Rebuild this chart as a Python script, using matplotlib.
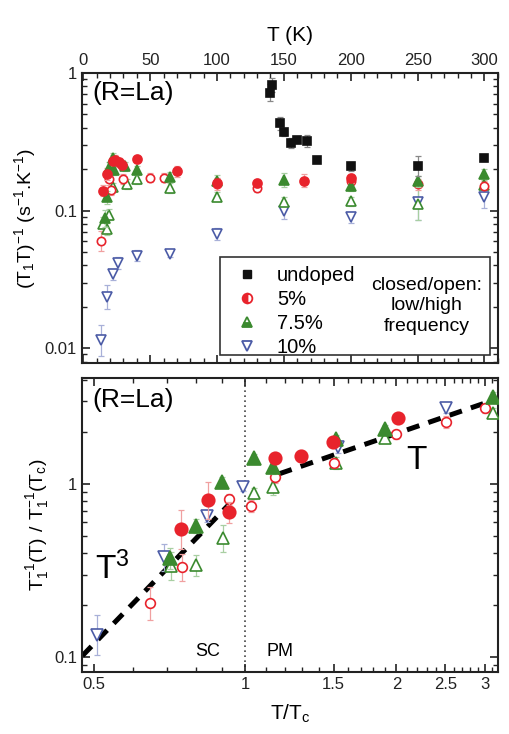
import numpy as np
import matplotlib
matplotlib.use("Agg")
import matplotlib.pyplot as plt
from matplotlib.lines import Line2D
from matplotlib.patches import Rectangle
from matplotlib.ticker import FixedLocator, FixedFormatter, NullFormatter

plt.rcParams['font.family'] = ['Liberation Sans', 'DejaVu Sans']
plt.rcParams['mathtext.default'] = 'regular'

# ---------------- top panel data: (T1 T)^-1 vs T (K) ----------------
undoped_T = [140, 141, 147, 150, 155, 160, 167, 175, 200, 250, 300]
undoped_v = [0.72, 0.82, 0.43, 0.37, 0.31, 0.325, 0.32, 0.235, 0.21, 0.21, 0.24]
undoped_e = [0.15, 0.12, 0.12, 0.06, 0.08, 0.05, 0.10, 0.03, 0.08, 0.18, 0.05]

p5c_T = [15, 17.5, 22, 24, 27, 29, 40, 70, 100, 130, 165, 200]
p5c_v = [0.14, 0.185, 0.23, 0.235, 0.225, 0.215, 0.237, 0.193, 0.16, 0.158, 0.165, 0.172]
p5c_e = [0.10, 0.10, 0.10, 0.08, 0.08, 0.08, 0.06, 0.10, 0.08, 0.06, 0.12, 0.08]

p5o_T = [13, 19, 21, 30, 50, 60, 100, 130, 200, 250, 300]
p5o_v = [0.060, 0.170, 0.141, 0.170, 0.174, 0.174, 0.156, 0.145, 0.165, 0.155, 0.152]
p5o_e = [0.18, 0.10, 0.08, 0.08, 0.08, 0.08, 0.10, 0.06, 0.08, 0.10, 0.08]

p75c_T = [16, 18, 19, 22, 23, 31, 40, 65, 100, 150, 200, 250, 300]
p75c_v = [0.088, 0.125, 0.205, 0.240, 0.197, 0.210, 0.197, 0.176, 0.165, 0.167, 0.150, 0.163, 0.186]
p75c_e = [0.15, 0.12, 0.10, 0.10, 0.08, 0.08, 0.08, 0.08, 0.10, 0.12, 0.08, 0.10, 0.08]

p75o_T = [14.5, 17.5, 19, 22.5, 32.5, 40, 65, 100, 150, 200, 250, 300]
p75o_v = [0.080, 0.0737, 0.0935, 0.148, 0.156, 0.170, 0.146, 0.126, 0.115, 0.117, 0.112, 0.154]
p75o_e = [0.12, 0.10, 0.10, 0.08, 0.08, 0.08, 0.08, 0.08, 0.10, 0.08, 0.32, 0.08]

p10_T = [13, 18, 22, 26, 40, 65, 100, 150, 200, 250, 300]
p10_v = [0.0114, 0.0235, 0.0344, 0.0415, 0.047, 0.0486, 0.0678, 0.100, 0.0895, 0.115, 0.125]
p10_e = [0.30, 0.22, 0.10, 0.10, 0.10, 0.06, 0.10, 0.15, 0.10, 0.35, 0.20]

# ---------------- bottom panel data: normalized rate vs T/Tc ----------------
b10_x = [0.507, 0.689, 0.839, 0.99, 1.533, 2.51]
b10_y = [0.134, 0.377, 0.653, 0.965, 1.64, 2.74]
b10_e = [0.30, 0.20, 0.08, 0.06, 0.08, 0.06]

b5c_x = [0.745, 0.843, 0.929, 1.147, 1.29, 1.494, 2.01]
b5c_y = [0.547, 0.808, 0.686, 1.407, 1.45, 1.757, 2.40]
b5c_e = [0.30, 0.28, 0.15, 0.08, 0.08, 0.06, 0.06]

b5o_x = [0.647, 0.748, 0.929, 1.028, 1.147, 1.503, 2.00, 2.51, 3.00]
b5o_y = [0.204, 0.330, 0.815, 0.749, 1.093, 1.328, 1.94, 2.29, 2.74]
b5o_e = [0.25, 0.20, 0.08, 0.08, 0.08, 0.06, 0.06, 0.08, 0.06]

b75c_x = [0.71, 0.80, 0.899, 1.042, 1.138, 1.517, 1.898, 3.11]
b75c_y = [0.372, 0.572, 1.03, 1.407, 1.26, 1.81, 2.07, 3.20]
b75c_e = [0.15, 0.10, 0.06, 0.06, 0.10, 0.06, 0.06, 0.06]

b75o_x = [0.712, 0.80, 0.903, 1.042, 1.135, 1.517, 1.898, 3.11]
b75o_y = [0.336, 0.340, 0.486, 0.883, 0.965, 1.328, 1.84, 2.58]
b75o_e = [0.20, 0.15, 0.20, 0.08, 0.12, 0.08, 0.06, 0.06]

t3_x = [0.475, 0.93]
t1_x = [1.17, 3.05]

RED = '#e8232c'
GREEN = '#3b8a2f'
BLUE = '#4b5ba6'
BLACK = '#111111'
ERED = '#f0a0a0'
EGREEN = '#a8cfa2'
EBLUE = '#a8b0d8'
EBLACK = '#888888'

fig = plt.figure(figsize=(5.09, 7.34), dpi=100)
ax1 = fig.add_axes([0.161, 0.5054, 0.817, 0.3951])
ax2 = fig.add_axes([0.161, 0.0845, 0.817, 0.4005])


def eb(ax, x, y, e, marker, ms, mfc, mec, ecol, z=3, mew=1.2):
    x = np.asarray(x, float)
    y = np.asarray(y, float)
    e = np.asarray(e, float)
    ax.errorbar(x, y, yerr=[y - y / (1 + e), y * e], fmt='none', ecolor=ecol,
                elinewidth=0.9, capsize=2.5, capthick=0.9, zorder=z - 1)
    ax.plot(x, y, linestyle='none', marker=marker, ms=ms, mfc=mfc, mec=mec,
            mew=mew, zorder=z)


# ---- top panel ----
eb(ax1, p10_T, p10_v, p10_e, 'v', 6.5, 'white', BLUE, EBLUE)
eb(ax1, p75o_T, p75o_v, p75o_e, '^', 6.5, 'white', GREEN, EGREEN)
eb(ax1, p5o_T, p5o_v, p5o_e, 'o', 6, 'white', RED, ERED)
eb(ax1, p75c_T, p75c_v, p75c_e, '^', 7, GREEN, GREEN, EGREEN, z=4)
eb(ax1, p5c_T, p5c_v, p5c_e, 'o', 6.5, RED, RED, ERED, z=4)
eb(ax1, undoped_T, undoped_v, undoped_e, 's', 6, BLACK, BLACK, EBLACK, z=5)

ax1.set_yscale('log')
ax1.set_xlim(-1, 310)
ax1.set_ylim(0.0078, 1.0)
ax1.xaxis.set_major_locator(FixedLocator([0, 50, 100, 150, 200, 250, 300]))
ax1.xaxis.set_minor_locator(FixedLocator(np.arange(0, 311, 10)))
ax1.yaxis.set_major_locator(FixedLocator([0.01, 0.1, 1]))
ax1.yaxis.set_major_formatter(FixedFormatter(['0.01', '0.1', '1']))
ax1.yaxis.set_minor_formatter(NullFormatter())
ax1.tick_params(which='both', direction='in', top=True, bottom=True, left=True,
                right=True, labeltop=True, labelbottom=False, labelsize=12,
                colors='#222222')
ax1.tick_params(which='major', length=6, width=1.2)
ax1.tick_params(which='minor', length=3.5, width=1.0)
ax1.xaxis.set_label_position('top')
ax1.set_xlabel('T (K)', fontsize=15, labelpad=9)
ax1.set_ylabel('$(T_1T)^{-1}$ (s$^{-1}$.K$^{-1}$)', fontsize=14, labelpad=5)
ax1.text(0.024, 0.93, '(R=La)', transform=ax1.transAxes, fontsize=19,
         ha='left', va='center')

# legend box
ax1.add_patch(Rectangle((0.332, 0.028), 0.649, 0.338, transform=ax1.transAxes,
                        fill=False, edgecolor='#333333', lw=1.2, zorder=6))
handles = [
    Line2D([], [], ls='none', marker='s', ms=5.5, mfc=BLACK, mec=BLACK),
    Line2D([], [], ls='none', marker='o', ms=7, mfc=RED, mec=RED,
           fillstyle='left', mfcalt='white', mew=1.3),
    Line2D([], [], ls='none', marker='^', ms=7.5, mfc=GREEN, mec=GREEN,
           fillstyle='bottom', mfcalt='white', mew=1.3),
    Line2D([], [], ls='none', marker='v', ms=7.5, mfc='white', mec=BLUE, mew=1.3),
]
leg = ax1.legend(handles, ['undoped', '5%', '7.5%', '10%'], loc='upper left',
                 bbox_to_anchor=(0.345, 0.372), frameon=False, fontsize=14.5,
                 labelspacing=0.25, handletextpad=1.0, handlelength=1.0,
                 borderaxespad=0.15)
leg.set_zorder(7)
ax1.text(0.829, 0.197, 'closed/open:\nlow/high\nfrequency', transform=ax1.transAxes,
         fontsize=14, ha='center', va='center', linespacing=1.3, zorder=7)

# ---- bottom panel ----
ax2.axvline(1.0, color='#444444', ls=(0, (1, 2)), lw=1.2, zorder=1)
xx3 = np.geomspace(t3_x[0], t3_x[1], 50)
ax2.plot(xx3, 0.95 * xx3 ** 3, color='black', lw=3.6, ls=(0, (2.6, 1.9)),
         zorder=2, solid_capstyle='butt')
xx1 = np.geomspace(t1_x[0], t1_x[1], 50)
ax2.plot(xx1, 0.98 * xx1, color='black', lw=3.6, ls=(0, (2.6, 1.9)), zorder=2)

eb(ax2, b10_x, b10_y, b10_e, 'v', 8, 'white', BLUE, EBLUE, z=4)
eb(ax2, b75o_x, b75o_y, b75o_e, '^', 8, 'white', GREEN, EGREEN, z=4)
eb(ax2, b5o_x, b5o_y, b5o_e, 'o', 7, 'white', RED, ERED, z=4)
eb(ax2, b75c_x, b75c_y, b75c_e, '^', 10, GREEN, GREEN, EGREEN, z=5)
eb(ax2, b5c_x, b5c_y, b5c_e, 'o', 9, RED, RED, ERED, z=5)

ax2.set_xscale('log')
ax2.set_yscale('log')
ax2.set_xlim(0.474, 3.18)
ax2.set_ylim(0.082, 4.1)
ax2.xaxis.set_major_locator(FixedLocator([0.5, 1, 1.5, 2, 2.5, 3]))
ax2.xaxis.set_major_formatter(FixedFormatter(['0.5', '1', '1.5', '2', '2.5', '3']))
minors = [v / 10 for v in range(5, 32) if v not in (5, 10, 15, 20, 25, 30)]
ax2.xaxis.set_minor_locator(FixedLocator(minors))
ax2.xaxis.set_minor_formatter(NullFormatter())
ax2.yaxis.set_major_locator(FixedLocator([0.1, 1]))
ax2.yaxis.set_major_formatter(FixedFormatter(['0.1', '1']))
ax2.yaxis.set_minor_locator(FixedLocator([0.09, 0.2, 0.3, 0.4, 0.5, 0.6, 0.7, 0.8, 0.9,
                                          2, 3, 4]))
ax2.yaxis.set_minor_formatter(NullFormatter())
ax2.tick_params(which='both', direction='in', top=True, bottom=True, left=True,
                right=True, labelsize=12, colors='#222222')
ax2.tick_params(which='major', length=6, width=1.2)
ax2.tick_params(which='minor', length=3.5, width=1.0)
ax2.set_xlabel('$T/T_c$', fontsize=15, labelpad=8)
ax2.set_ylabel('$T_1^{-1}(T)\\ /\\ T_1^{-1}(T_c)$', fontsize=14, labelpad=2)
ax2.text(0.024, 0.925, '(R=La)', transform=ax2.transAxes, fontsize=19,
         ha='left', va='center')
ax2.text(0.072, 0.35, '$T^3$', transform=ax2.transAxes, fontsize=24,
         ha='center', va='center')
ax2.text(0.805, 0.72, 'T', transform=ax2.transAxes, fontsize=24,
         ha='center', va='center')
ax2.text(0.303, 0.068, 'SC', transform=ax2.transAxes, fontsize=13,
         ha='center', va='center')
ax2.text(0.476, 0.068, 'PM', transform=ax2.transAxes, fontsize=13,
         ha='center', va='center')

for ax in (ax1, ax2):
    for s in ax.spines.values():
        s.set_linewidth(1.5)
        s.set_color('#222222')

fig.savefig('out.png', dpi=100)
